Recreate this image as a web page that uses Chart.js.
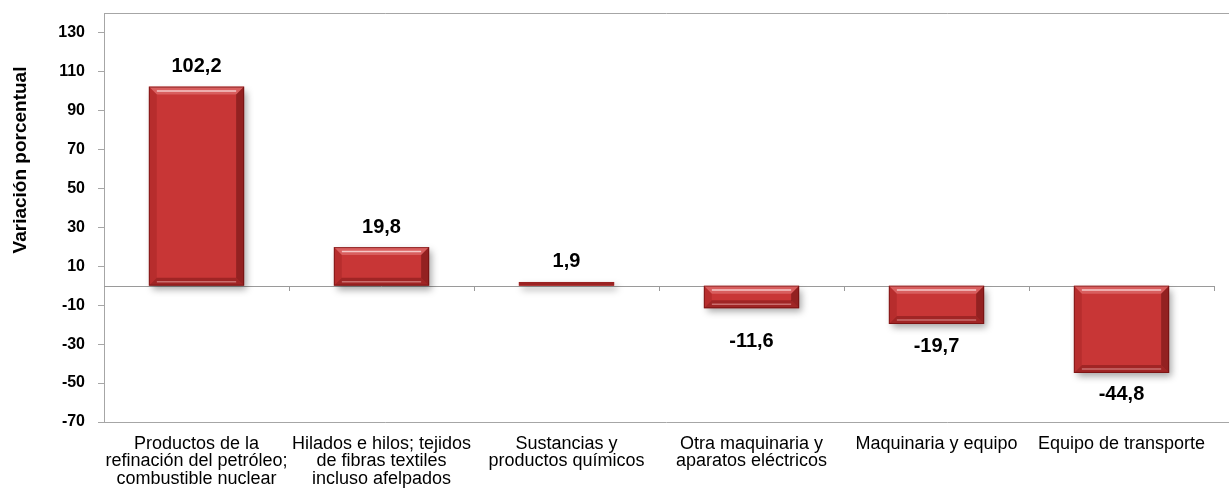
<!DOCTYPE html>
<html>
<head>
<meta charset="utf-8">
<script src="https://cdn.jsdelivr.net/npm/chart.js@4.4.0/dist/chart.umd.min.js"></script>
<style>
  html, body { margin: 0; padding: 0; background: #fff; }
  #wrap { width: 1229px; height: 495px; }
</style>
</head>
<body>
<div id="wrap"><canvas id="myChart" width="1229" height="495"></canvas></div>
<script>
// data
const categories = [
  ["Productos de la", "refinación del petróleo;", "combustible nuclear"],
  ["Hilados e hilos; tejidos", "de fibras textiles", "incluso afelpados"],
  ["Sustancias y", "productos químicos"],
  ["Otra maquinaria y", "aparatos eléctricos"],
  ["Maquinaria y equipo"],
  ["Equipo de transporte"]
];
const variacion = [102.2, 19.8, 1.9, -11.6, -19.7, -44.8];
const yTicks = [-70, -50, -30, -10, 10, 30, 50, 70, 90, 110, 130];
const yTitle = "Variación porcentual";

const FONT = "'Liberation Sans', Arial, sans-serif";
const fmt = v => v.toFixed(1).replace('.', ',');

// frame, zero line with category ticks, y title
const framePlugin = {
  id: 'frame',
  beforeDatasetsDraw(chart) {
    const { ctx, chartArea: a, scales } = chart;
    const y0 = scales.y.getPixelForValue(0);
    ctx.save();
    ctx.strokeStyle = '#a6a6a6';
    ctx.lineWidth = 1;
    ctx.beginPath();
    ctx.moveTo(a.left + 0.5, a.top);
    ctx.lineTo(a.left + 0.5, a.bottom + 0.5);
    ctx.moveTo(a.left, a.top + 0.5);
    ctx.lineTo(chart.width, a.top + 0.5);
    ctx.moveTo(a.left, a.bottom + 0.5);
    ctx.lineTo(chart.width, a.bottom + 0.5);
    ctx.stroke();
    ctx.strokeStyle = '#9a9a9a';
    ctx.beginPath();
    ctx.moveTo(a.left, Math.round(y0) + 0.5);
    ctx.lineTo(a.right, Math.round(y0) + 0.5);
    const n = categories.length;
    const step = (a.right - a.left) / n;
    for (let i = 1; i <= n; i++) {
      const x = Math.round(a.left + step * i) + 0.5;
      ctx.moveTo(x, Math.round(y0));
      ctx.lineTo(x, Math.round(y0) + 5);
    }
    ctx.stroke();
    // y title
    ctx.translate(21, 160);
    ctx.rotate(-Math.PI / 2);
    ctx.fillStyle = '#000';
    ctx.font = "bold 19px " + FONT;
    ctx.textAlign = 'center';
    ctx.textBaseline = 'middle';
    ctx.fillText(yTitle, 0, 0);
    ctx.restore();
  }
};

// drop shadow under bars
const shadowPlugin = {
  id: 'barShadow',
  beforeDatasetDraw(chart) {
    const ctx = chart.ctx;
    ctx.save();
    ctx.shadowColor = 'rgba(0,0,0,0.35)';
    ctx.shadowBlur = 7;
    ctx.shadowOffsetX = 3;
    ctx.shadowOffsetY = 4;
  },
  afterDatasetDraw(chart) {
    chart.ctx.restore();
  }
};

// bevel on the bars + value labels
const bevelPlugin = {
  id: 'bevel',
  afterDatasetsDraw(chart) {
    const { ctx, scales } = chart;
    const y0 = scales.y.getPixelForValue(0);
    const meta = chart.getDatasetMeta(0);
    ctx.save();
    meta.data.forEach((bar, i) => {
      const p = bar.getProps(['x', 'y', 'base', 'width'], true);
      const l = p.x - p.width / 2, r = p.x + p.width / 2;
      const t = Math.min(p.y, p.base), b = Math.max(p.y, p.base);
      const h = b - t;
      const bv = Math.min(8, h / 2);
      if (h > 6) {
        const poly = (pts, c) => {
          ctx.beginPath();
          ctx.moveTo(pts[0][0], pts[0][1]);
          pts.slice(1).forEach(q => ctx.lineTo(q[0], q[1]));
          ctx.closePath();
          ctx.fillStyle = c;
          ctx.fill();
        };
        // top
        poly([[l, t], [r, t], [r - bv, t + bv], [l + bv, t + bv]], 'rgba(255,190,190,0.30)');
        // bottom
        poly([[l, b], [r, b], [r - bv, b - bv], [l + bv, b - bv]], 'rgba(70,0,0,0.30)');
        // left
        poly([[l, t], [l + bv, t + bv], [l + bv, b - bv], [l, b]], 'rgba(90,0,0,0.15)');
        // right
        poly([[r, t], [r - bv, t + bv], [r - bv, b - bv], [r, b]], 'rgba(60,0,0,0.38)');
        // highlight lines
        ctx.strokeStyle = 'rgba(255,235,235,0.75)';
        ctx.lineWidth = 1.5;
        ctx.beginPath();
        ctx.moveTo(l + bv, t + bv * 0.55);
        ctx.lineTo(r - bv, t + bv * 0.55);
        ctx.stroke();
        ctx.strokeStyle = 'rgba(255,200,200,0.45)';
        ctx.beginPath();
        ctx.moveTo(l + bv, b - bv * 0.5);
        ctx.lineTo(r - bv, b - bv * 0.5);
        ctx.stroke();
        ctx.strokeStyle = 'rgba(100,10,10,0.6)';
        ctx.lineWidth = 1;
        ctx.strokeRect(l + 0.5, t + 0.5, r - l - 1, h - 1);
      } else {
        // very short bar: dark red sliver
        ctx.fillStyle = '#9b2222';
        ctx.fillRect(l, t, r - l, Math.max(h, 2));
      }
      // label
      const v = variacion[i];
      ctx.fillStyle = '#000';
      ctx.font = "bold 20px " + FONT;
      ctx.textAlign = 'center';
      ctx.textBaseline = 'middle';
      const ly = v >= 0 ? t - 20 : Math.max(b + 22, y0 + 56);
      ctx.fillText(fmt(v), p.x, ly);
    });
    ctx.restore();
  }
};

const ctx = document.getElementById('myChart').getContext('2d');
const chart = new Chart(ctx, {
  type: 'bar',
  data: {
    labels: categories,
    datasets: [{
      data: variacion,
      backgroundColor: (c) => {
        const el = c.element;
        const x = el ? el.x : NaN;
        const w = el ? el.width : NaN;
        if (!Number.isFinite(x) || !Number.isFinite(w) || w <= 0) return '#c83636';
        const g = c.chart.ctx.createLinearGradient(x - w / 2, 0, x + w / 2, 0);
        g.addColorStop(0, '#b83030');
        g.addColorStop(0.35, '#d23e3c');
        g.addColorStop(0.7, '#cf3c3a');
        g.addColorStop(1, '#a82626');
        return g;
      },
      borderWidth: 0,
      barPercentage: 1,
      categoryPercentage: 0.515
    }]
  },
  options: {
    responsive: false,
    animation: false,
    devicePixelRatio: 1,
    layout: { padding: { top: 13, right: 15, left: 0, bottom: 0 } },
    plugins: {
      legend: { display: false },
      tooltip: { enabled: false }
    },
    scales: {
      x: {
        grid: { display: false },
        border: { display: false },
        ticks: {
          color: '#000',
          font: { family: FONT, size: 18, lineHeight: 0.98 },
          padding: 5,
          maxRotation: 0,
          autoSkip: false
        },
        afterFit(axis) {
          axis.height = 73;
          axis.paddingLeft = 0;
          axis.paddingRight = 0;
        }
      },
      y: {
        min: -70,
        max: 140,
        afterBuildTicks(axis) { axis.ticks = yTicks.map(v => ({ value: v })); },
        grid: { drawOnChartArea: false, drawTicks: true, tickLength: 6, color: '#a6a6a6' },
        border: { display: false },
        ticks: {
          color: '#000',
          font: { family: FONT, size: 16, weight: 'bold' },
          padding: 13
        },
        afterFit(axis) {
          axis.width = 104;
          axis.paddingTop = 0;
          axis.paddingBottom = 0;
        }
      }
    }
  },
  plugins: [framePlugin, shadowPlugin, bevelPlugin]
});
</script>
</body>
</html>
